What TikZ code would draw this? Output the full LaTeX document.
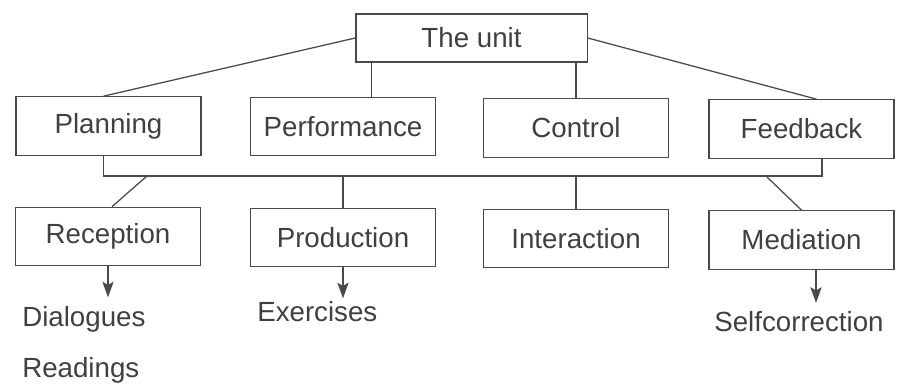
\documentclass[tikz,border=0pt]{standalone}
\usepackage{fontspec}
\setmainfont{Liberation Sans}
\usetikzlibrary{calc,arrows.meta}
\definecolor{ink}{HTML}{4A4A4A}
\definecolor{txt}{HTML}{404040}
\tikzset{
	unitbox/.style={draw=ink, line width=0.9pt, minimum width=4.62cm, minimum height=1.46cm, inner sep=0pt, text=txt, font=\fontsize{19.7}{24}\selectfont},
	item/.style={anchor=west, inner sep=0pt, text=txt, font=\fontsize{19.7}{24}\selectfont},
	link/.style={draw=ink, line width=0.9pt},
	arr/.style={draw=ink, line width=0.9pt, -{Stealth[length=3.9mm, width=2.8mm, inset=0.8mm, fill=ink]}}
}

\begin{document}
\begin{tikzpicture}[x=0.025cm, y=-0.025cm]
		%%%%% START %%%%%
		\useasboundingbox (0, 0) rectangle (907, 391);
		
		\node[unitbox, minimum width=5.78cm, minimum height=1.2cm] (unit) at (471.5, 38) {The unit};
		
		\node[unitbox] (plan) at (108.5, 126) {Planning};
		\node[unitbox] (perf) at (343, 126.5) {Performance};
		\node[unitbox] (ctrl) at (576, 128) {Control};
		\node[unitbox] (feed) at (801.5, 129) {Feedback};
		
		\draw[link] (unit.west) -- ($(plan.north)+(-5, 0)$);
		\draw[link] ($(unit.south west)+(16, 0)$) coordinate (u1) -- (u1 |- perf.north);
		\draw[link] (ctrl.north |- unit.south) -- (ctrl.north);
		\draw[link] (unit.east) -- ($(feed.north)+(15, 0)$);
		
		\coordinate (barR) at (822, 176);
		\draw[link] ($(plan.south)+(-5, 0)$) |- (barR) -- (barR |- feed.south);
		
		\node[unitbox] (rec) at (108, 236.5) {Reception};
		\node[unitbox] (prod) at (343, 237.5) {Production};
		\node[unitbox] (inter) at (576, 238.5) {Interaction};
		\node[unitbox] (med) at (801.5, 240) {Mediation};
		
		\coordinate (b1) at (147, 176);
		\coordinate (b4) at (767, 177);
		\draw[link] (b1) -- ($(rec.north)+(4, 0)$);
		\draw[link] (prod.north |- barR) -- (prod.north);
		\draw[link] (inter.north |- barR) -- (inter.north);
		\draw[link] (b4) -- (med.north);
		
		\node[item] (dia) at (22, 319) {Dialogues};
		\node[item] (read) at (22, 370) {Readings};
		\node[item] (exer) at (257, 312) {Exercises};
		\node[item] (self) at (714, 322) {Selfcorrection};
		
		\draw[arr] (rec.south) -- ++(0, 31);
		\draw[arr] (prod.south) -- ++(0, 31);
		\draw[arr] ($(med.south)+(14.5, 0)$) -- ++(0, 33);
		%%%%% END %%%%%
	\end{tikzpicture}
\end{document}
